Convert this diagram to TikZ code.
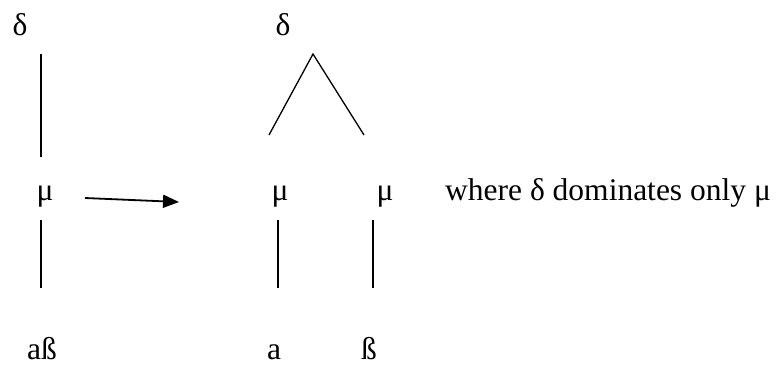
\documentclass[tikz,border=0pt]{standalone}
\usepackage{fontspec}
\setmainfont{Liberation Serif}
\usetikzlibrary{arrows.meta}
\begin{document}
\begin{tikzpicture}[x=1pt,y=-1pt,
  lbl/.style={anchor=base,inner sep=0pt,font=\fontsize{31.5}{37}\selectfont},
  edge/.style={line width=1.3pt},
  bigarrow/.style={line width=1.8pt,-{Triangle[length=16pt,width=13pt]}}]
\useasboundingbox (0,0) rectangle (778,367);
% left tree
\node[lbl] (d1) at (20,35) {δ};
\node[lbl] (m1) at (45,200) {μ};
\node[lbl] (ab) at (42,359) {aß};
\coordinate (l1t) at (41,54); \coordinate (l1b) at (41,157);
\coordinate (l2t) at (41,220); \coordinate (l2b) at (41,288);
\draw[edge] (l1t) -- (l1b);
\draw[edge] (l2t) -- (l2b);
% arrow
\coordinate (as) at (85,198); \coordinate (ae) at (179,202);
\draw[bigarrow] (as) -- (ae);
% right tree
\node[lbl] (d2) at (283,35) {δ};
\coordinate (apex) at (313,54);
\coordinate (tl) at (269,135); \coordinate (tr) at (364,135);
\draw[edge] (tl) -- (apex) -- (tr);
\node[lbl] (m2) at (280,200) {μ};
\node[lbl] (m3) at (385,200) {μ};
\coordinate (r1t) at (278,220); \coordinate (r1b) at (278,288);
\coordinate (r2t) at (373,220); \coordinate (r2b) at (373,288);
\draw[edge] (r1t) -- (r1b);
\draw[edge] (r2t) -- (r2b);
\node[lbl] (a) at (274,359) {a};
\node[lbl] (b) at (369,359) {ß};
\node[lbl,anchor=base west] (where) at (445,200) {where δ dominates only μ};
\end{tikzpicture}
\end{document}
